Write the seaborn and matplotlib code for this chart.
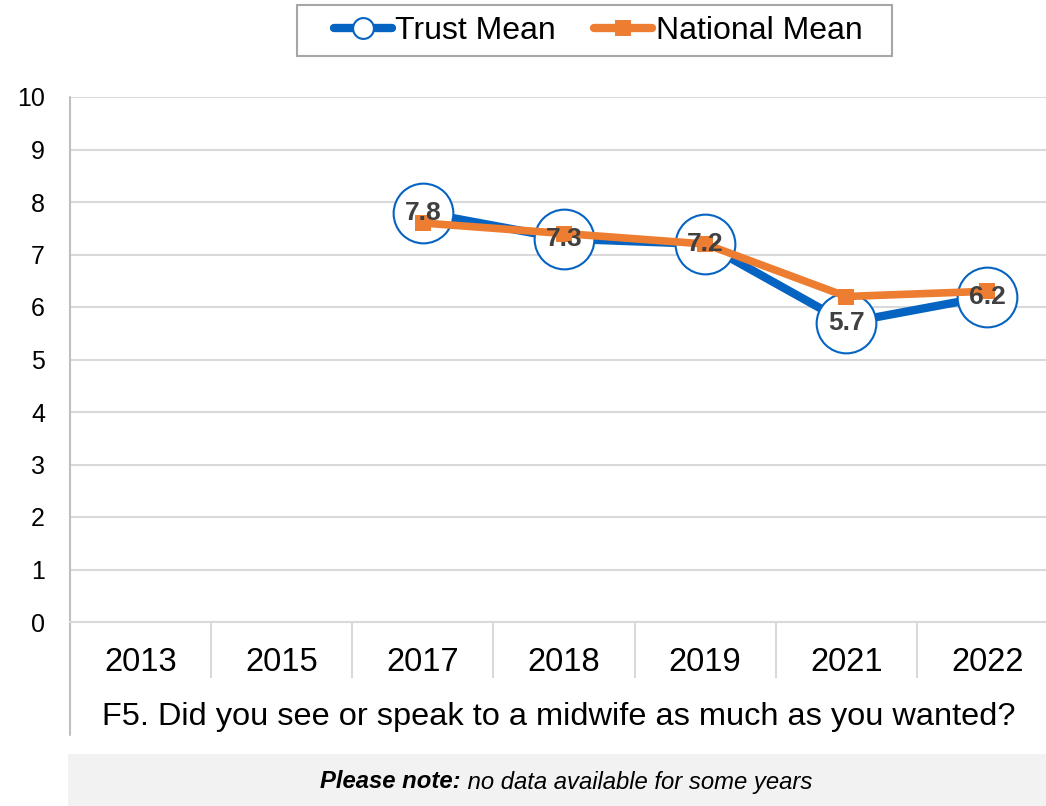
import numpy as np
import pandas as pd
import matplotlib
matplotlib.use("Agg")
import matplotlib.pyplot as plt
from matplotlib.lines import Line2D
from matplotlib.patches import Rectangle
import seaborn as sns

# Survey results per year (no data for 2013 and 2015)
years = ["2013", "2015", "2017", "2018", "2019", "2021", "2022"]
trust_mean = [np.nan, np.nan, 7.8, 7.3, 7.2, 5.7, 6.2]
national_mean = [np.nan, np.nan, 7.6, 7.4, 7.2, 6.2, 6.3]
question = "F5. Did you see or speak to a midwife as much as you wanted?"
y_ticks = list(range(0, 11))

BLUE = "#0563C1"
ORANGE = "#ED7D31"
GRID = "#D9D9D9"

sns.set_theme(style="white")
plt.rcParams["font.family"] = ["Liberation Sans", "DejaVu Sans"]
plt.rcParams["text.color"] = "black"

df = pd.DataFrame({"year": years, "pos": np.arange(len(years)),
                   "trust": trust_mean, "national": national_mean})

W, H = 1046, 806
fig = plt.figure(figsize=(W / 100, H / 100), dpi=100)
ax_left, ax_right, ax_top, ax_bottom = 70, 1058, 97, 622
ax = fig.add_axes([ax_left / W, 1 - ax_bottom / H,
                   (ax_right - ax_left) / W, (ax_bottom - ax_top) / H])

# Trust series: thick blue line with large open circles
sns.lineplot(data=df.dropna(), x="pos", y="trust", ax=ax, color=BLUE,
             linewidth=6, marker="o", markersize=43, markerfacecolor="white",
             markeredgecolor=BLUE, markeredgewidth=1.5, zorder=3)
# National series: orange line with square markers
sns.lineplot(data=df.dropna(), x="pos", y="national", ax=ax, color=ORANGE,
             linewidth=5.5, marker="s", markersize=11, markeredgewidth=0,
             zorder=4)

# Value labels for the trust series
for p, v in zip(df["pos"], df["trust"]):
    if not np.isnan(v):
        ax.text(p, v, f"{v:.1f}", ha="center", va="center", fontsize=19,
                fontweight="bold", color="#404040", zorder=5)

ax.set_xlim(-0.5, len(years) - 0.5)
ax.set_ylim(0, 10)
ax.set_yticks(y_ticks)
ax.set_yticklabels([str(t) for t in y_ticks], fontsize=18, color="black")
ax.yaxis.grid(True, color=GRID, linewidth=1.5)
ax.set_axisbelow(True)
ax.tick_params(axis="y", left=False, length=0, pad=18)

# Category labels between separators
ax.set_xticks(df["pos"])
ax.set_xticklabels(years, fontsize=23.5, color="black")
ax.tick_params(axis="x", which="major", bottom=False, length=0, pad=18)
ax.set_xticks(np.arange(-0.5, len(years) - 0.5, 1.0), minor=True)
ax.tick_params(axis="x", which="minor", bottom=True, length=40, width=1.5,
               color=GRID, direction="out")
ax.set_xlabel("")
ax.set_ylabel("")

for s in ["top", "right"]:
    ax.spines[s].set_visible(False)
ax.spines["bottom"].set_color(GRID)
ax.spines["bottom"].set_linewidth(1.5)
ax.spines["left"].set_visible(False)
# Left axis line running down past the category labels
ax.add_line(Line2D([0, 0], [1, -(735 - ax_bottom) / (ax_bottom - ax_top)],
                   transform=ax.transAxes, color="#BFBFBF", linewidth=1.5,
                   clip_on=False))

# Question text under the categories
fig.text(559 / W, 1 - 717 / H, question, ha="center", va="center",
         fontsize=23.4, color="black")

# Note band at the bottom
fig.add_artist(Rectangle((68 / W, 0), (ax_right - 68) / W, (806 - 754) / H,
                         transform=fig.transFigure, facecolor="#F2F2F2",
                         edgecolor="none", zorder=0))
note_y = 1 - 782 / H
t1 = fig.text(0, note_y, "Please note:", fontsize=17.2, fontstyle="italic",
              fontweight="bold", va="center", ha="left", color="black")
t2 = fig.text(0, note_y, " no data available for some years", fontsize=17.2,
              fontstyle="italic", va="center", ha="left", color="black")
fig.canvas.draw()
r = fig.canvas.get_renderer()
w1 = t1.get_window_extent(r).width
w2 = t2.get_window_extent(r).width
x0 = 566 - (w1 + w2) / 2
t1.set_x(x0 / W)
t2.set_x((x0 + w1) / W)

# Legend: entries without frame, boxed by a separate rectangle
handles = [
    Line2D([], [], color=BLUE, linewidth=6, marker="o", markersize=15,
           markerfacecolor="white", markeredgecolor=BLUE, markeredgewidth=1.5),
    Line2D([], [], color=ORANGE, linewidth=6, marker="s", markersize=12,
           markeredgewidth=0),
]
leg = fig.legend(handles, ["Trust Mean", "National Mean"], loc="center",
                 bbox_to_anchor=(598 / W, 1 - 31 / H), ncol=2, fontsize=23,
                 frameon=False, handlelength=1.82, handletextpad=0.1,
                 columnspacing=1.2, borderpad=0, borderaxespad=0)
for t in leg.get_texts():
    t.set_color("black")
fig.add_artist(Rectangle((297 / W, 1 - 56 / H), (892 - 297) / W, 51 / H,
                         transform=fig.transFigure, facecolor="none",
                         edgecolor="#A6A6A6", linewidth=1.5))

fig.savefig("out.png", dpi=100)
